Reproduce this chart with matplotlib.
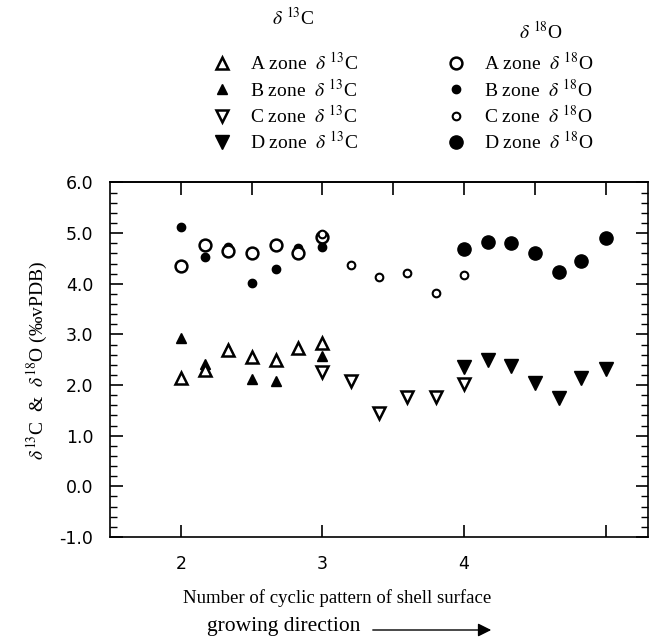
import matplotlib
matplotlib.use("Agg")
import matplotlib.pyplot as plt
from matplotlib.ticker import MultipleLocator, FixedLocator

plt.rcParams['font.family'] = ['Liberation Serif', 'DejaVu Serif']
plt.rcParams['mathtext.fontset'] = 'stix'

# cycle positions along the shell, one list per growth zone
x_ab = [2.0, 2.17, 2.33, 2.5, 2.67, 2.83, 3.0]
x_c = [3.0, 3.2, 3.4, 3.6, 3.8, 4.0]
x_d = [4.0, 4.17, 4.33, 4.5, 4.67, 4.83, 5.0]

# d13C per zone
c13_A = [2.13, 2.30, 2.70, 2.55, 2.50, 2.73, 2.83]
c13_B = [2.93, 2.42, 2.72, 2.12, 2.09, 2.74, 2.58]
c13_C = [2.25, 2.09, 1.44, 1.77, 1.77, 2.02]
c13_D = [2.35, 2.50, 2.38, 2.04, 1.75, 2.14, 2.32]

# d18O per zone
o18_A = [4.35, 4.76, 4.64, 4.61, 4.76, 4.60, 4.92]
o18_B = [5.13, 4.52, 4.72, 4.02, 4.30, 4.70, 4.73]
o18_C = [4.98, 4.38, 4.14, 4.21, 3.82, 4.18]
o18_D = [4.68, 4.82, 4.80, 4.60, 4.23, 4.45, 4.90]

x_ticks = [2, 3, 4, 5]
x_ticklabels = ['2', '3', '4', '']
x_top_ticks = [2, 2.5, 3, 3.5, 4, 4.5, 5]

W, H = 651, 637
fig = plt.figure(figsize=(W / 100, H / 100), dpi=100)
ax = fig.add_axes([110 / W, 1 - 537 / H, (648 - 110) / W, (537 - 182.5) / H])

k = dict(linestyle='none', color='black')
hB = ax.plot(x_ab, c13_B, marker='^', ms=7, **k)[0]
hA = ax.plot(x_ab, c13_A, marker='^', ms=8, mfc='white', mew=1.8, **k)[0]
hC = ax.plot(x_c, c13_C, marker='v', ms=8, mfc='white', mew=1.8, **k)[0]
hD = ax.plot(x_d, c13_D, marker='v', ms=10, **k)[0]

oB = ax.plot(x_ab, o18_B, marker='o', ms=6, **k)[0]
oA = ax.plot(x_ab, o18_A, marker='o', ms=8.5, mfc='white', mew=1.8, **k)[0]
oC = ax.plot(x_c, o18_C, marker='o', ms=5.5, mfc='white', mew=1.5, **k)[0]
oD = ax.plot(x_d, o18_D, marker='o', ms=9.5, **k)[0]

ax.set_xlim(1.5, 5.3)
ax.set_ylim(-1.0, 6.0)

for s in ax.spines.values():
    s.set_linewidth(1.2)

ax.xaxis.set_major_locator(FixedLocator(x_ticks))
ax.set_xticklabels(x_ticklabels)
ax.yaxis.set_major_locator(MultipleLocator(1.0))
ax.yaxis.set_minor_locator(MultipleLocator(0.2))
ax.yaxis.set_major_formatter(matplotlib.ticker.FormatStrFormatter('%.1f'))
ax.tick_params(axis='x', which='both', direction='in', top=False, length=9, width=1.2, pad=13)
ax.tick_params(axis='y', which='major', direction='in', right=True, length=9, width=1.2, pad=12)
ax.tick_params(axis='y', which='minor', direction='in', right=True, length=5, width=1.0)
for lab in ax.get_xticklabels() + ax.get_yticklabels():
    lab.set_family('DejaVu Sans')
    lab.set_fontsize(12.5)

top = ax.secondary_xaxis('top')
top.xaxis.set_major_locator(FixedLocator(x_top_ticks))
top.tick_params(direction='in', length=9, width=1.2, labeltop=False)
top.spines['top'].set_linewidth(1.2)

fig.text(37 / W, 1 - 360 / H, r'$\delta^{13}$C  &  $\delta^{18}$O (‰vPDB)',
         rotation=90, ha='center', va='center', fontsize=14)
fig.text(337 / W, 1 - 598 / H, 'Number of cyclic pattern of shell surface',
         ha='center', va='center', fontsize=13.5)
fig.text(284 / W, 1 - 626 / H, 'growing direction', ha='center', va='center', fontsize=15.5)
fig.add_artist(matplotlib.patches.FancyArrowPatch(
    (370 / W, 1 - 630 / H), (494 / W, 1 - 630 / H), transform=fig.transFigure,
    arrowstyle='-|>', mutation_scale=20, lw=1.0, color='black'))

fig.text(293 / W, 1 - 18 / H, r'$\delta$ $^{13}$C', ha='center', va='center', fontsize=14)
fig.text(541 / W, 1 - 32 / H, r'$\delta$ $^{18}$O', ha='center', va='center', fontsize=14)

leg_kw = dict(loc='upper left', frameon=False, fontsize=14, borderpad=0,
              handlelength=1.0, handletextpad=0.95, labelspacing=0.22,
              borderaxespad=0, numpoints=1)
fig.legend([hA, hB, hC, hD],
           [r'A zone  $\delta$ $^{13}$C', r'B zone  $\delta$ $^{13}$C',
            r'C zone  $\delta$ $^{13}$C', r'D zone  $\delta$ $^{13}$C'],
           bbox_to_anchor=(212 / W, 1 - 52 / H), **leg_kw)
fig.legend([oA, oB, oC, oD],
           [r'A zone  $\delta$ $^{18}$O', r'B zone  $\delta$ $^{18}$O',
            r'C zone  $\delta$ $^{18}$O', r'D zone  $\delta$ $^{18}$O'],
           bbox_to_anchor=(446 / W, 1 - 52 / H), **leg_kw)

fig.savefig('out.png', dpi=100)
